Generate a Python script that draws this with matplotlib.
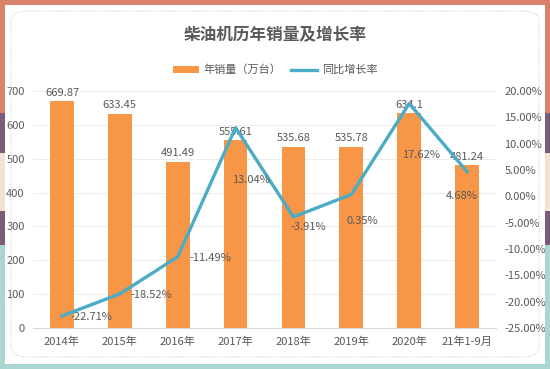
import numpy as np
import matplotlib
matplotlib.use("Agg")
import matplotlib.pyplot as plt
from matplotlib.patches import Rectangle, FancyBboxPatch
from matplotlib.ticker import FuncFormatter, MultipleLocator
from matplotlib.transforms import offset_copy

plt.rcParams['font.family'] = ['Noto Sans CJK SC', 'DejaVu Sans']

years = ['2014年', '2015年', '2016年', '2017年', '2018年', '2019年', '2020年', '21年1-9月']
sales = [669.87, 633.45, 491.49, 555.61, 535.68, 535.78, 634.1, 481.24]
growth = [-22.71, -18.52, -11.49, 13.04, -3.91, 0.35, 17.62, 4.68]
sales_labels = ['669.87', '633.45', '491.49', '555.61', '535.68', '535.78', '634.1', '481.24']

# label placement for the growth points, in pixels (dx, dy down)
growth_offsets = [(9, 1), (11, 1), (12, 1), (-3, 52), (-3, 10), (-5, 27), (-7, 51), (-21, 24)]

bar_color = '#F79646'
line_color = '#4BACC6'
text_color = '#595959'

fig = plt.figure(figsize=(5.5, 3.69), dpi=100)
W, H = 550, 369

# frame around the chart
def px(x0, y0, w, h, c):
    fig.patches.append(Rectangle((x0 / W, 1 - (y0 + h) / H), w / W, h / H,
                                 transform=fig.transFigure, color=c, zorder=0, lw=0))

salmon, purple, beige, teal = '#D9836C', '#7A5C78', '#F2E2D4', '#A9D6D0'
bw = 5
px(0, 0, W, bw, salmon)
px(0, H - bw, W, bw, teal)
for x0 in (0, W - bw):
    px(x0, 0, bw, 113, salmon)
    px(x0, 113, bw, 40, purple)
    px(x0, 153, bw, 58, beige)
    px(x0, 211, bw, 34, purple)
    px(x0, 245, bw, H - 245, teal)
fig.patches.append(FancyBboxPatch((11 / W, 1 - 357 / H), 528 / W, 346 / H,
                                  boxstyle='round,pad=0,rounding_size=0.03',
                                  transform=fig.transFigure, fill=False,
                                  ec='#C8C8C8', lw=0.7, ls=(0, (1, 1.5))))

ax = fig.add_axes([33 / W, 1 - 328 / H, 463 / W, 237 / H])
x = np.arange(len(years))
ax.bar(x, sales, width=0.41, color=bar_color, label='年销量（万台）', zorder=2)
ax.set_ylim(0, 700)
ax.set_xlim(-0.5, len(years) - 0.5)
ax.yaxis.set_major_locator(MultipleLocator(100))
ax.set_xticks(x)
ax.set_xticklabels(years)
ax.grid(axis='y', color='#EDEDED', lw=0.7, zorder=0)
for s in ['top', 'right', 'left']:
    ax.spines[s].set_visible(False)
ax.spines['bottom'].set_color('#D9D9D9')
ax.tick_params(axis='both', length=0, colors=text_color, labelsize=8)
ax.tick_params(axis='x', pad=6)
ax.tick_params(axis='y', pad=6)
for xi, v, lab in zip(x, sales, sales_labels):
    ax.text(xi, v + 10, lab, ha='center', va='bottom', fontsize=8, color=text_color)

ax2 = ax.twinx()
ax2.plot(x, growth, color=line_color, lw=2.4, label='同比增长率', zorder=3)
ax2.set_ylim(-25, 20)
ax2.yaxis.set_major_locator(MultipleLocator(5))
ax2.yaxis.set_major_formatter(FuncFormatter(lambda v, p: f'{v:.2f}%'))
for s in ['top', 'right', 'left', 'bottom']:
    ax2.spines[s].set_visible(False)
ax2.tick_params(axis='y', length=0, colors=text_color, labelsize=8, pad=6)
for xi, g, (dx, dy) in zip(x, growth, growth_offsets):
    tr = offset_copy(ax2.transData, fig=fig, x=dx, y=-dy, units='dots')
    ax2.text(xi, g, f'{g:.2f}%', transform=tr, ha='left', va='center',
             fontsize=8, color=text_color, zorder=4)

fig.text(0.5, 1 - 35 / H, '柴油机历年销量及增长率', ha='center', va='center',
         fontsize=12, fontweight='bold', color=text_color)
h1, l1 = ax.get_legend_handles_labels()
h2, l2 = ax2.get_legend_handles_labels()
fig.legend(h1 + h2, l1 + l2, loc='center', bbox_to_anchor=(0.5, 1 - 70 / H),
           ncol=2, frameon=False, fontsize=8, labelcolor=text_color,
           handlelength=2.4, handleheight=0.5, columnspacing=0.8, handletextpad=0.4)

fig.savefig('out.png', dpi=100)
